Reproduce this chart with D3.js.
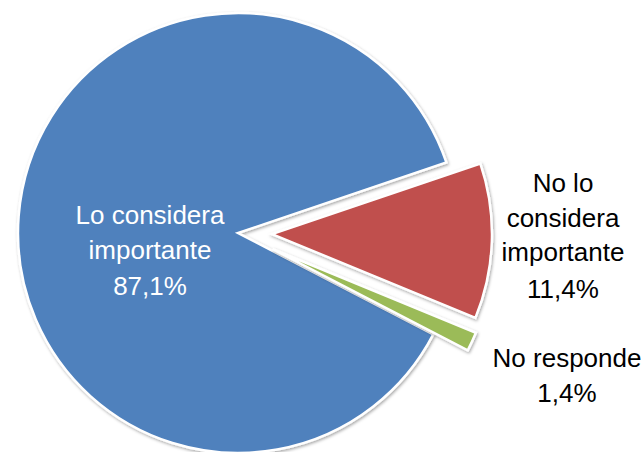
<!DOCTYPE html>
<html>
<head>
<meta charset="utf-8">
<script src="https://cdn.jsdelivr.net/npm/d3@7"></script>
<style>
  html, body { margin: 0; padding: 0; background: #fff; }
  svg { display: block; }
</style>
</head>
<body>
<svg id="chart" width="644" height="452"></svg>
<script>
// Survey answers, in the order the slices are laid out clockwise
const categories = ["No lo considera importante", "No responde", "Lo considera importante"];
const values = [11.4, 1.4, 87.1];
const valueLabels = ["11,4%", "1,4%", "87,1%"];
const labelLines = [["No lo", "considera", "importante"], ["No responde"], ["Lo considera", "importante"]];
const colors = ["#C0504D", "#9BBB59", "#4F81BD"];
const explode = [34, 38, 0];

const svg = d3.select("#chart");
const cx = 238, cy = 233, r = 220;
const start = 71.3 * Math.PI / 180;

const defs = svg.append("defs");
const f = defs.append("filter").attr("id", "shadow")
  .attr("x", "-10%").attr("y", "-10%").attr("width", "120%").attr("height", "120%");
f.append("feDropShadow").attr("dx", 1).attr("dy", 1.5)
  .attr("stdDeviation", 1.5).attr("flood-color", "#000").attr("flood-opacity", 0.35);

const pie = d3.pie().sort(null).value(d => d).startAngle(start).endAngle(start + 2 * Math.PI);
const arcs = pie(values);
const arc = d3.arc().innerRadius(0).outerRadius(r);

const g = svg.append("g").attr("transform", `translate(${cx},${cy})`);

// Draw blue last-first ordering so exploded slices sit above
const order = [2, 0, 1];
order.forEach(i => {
  const a = arcs[i];
  const mid = (a.startAngle + a.endAngle) / 2;
  const dx = Math.sin(mid) * explode[i], dy = -Math.cos(mid) * explode[i];
  g.append("path")
    .attr("d", arc(a))
    .attr("transform", `translate(${dx},${dy})`)
    .attr("fill", colors[i])
    .attr("stroke", "#fff")
    .attr("stroke-width", 2.5)
    .attr("stroke-linejoin", "miter")
    .attr("filter", "url(#shadow)");
});

const font = "'Liberation Sans', Arial, sans-serif";
function block(x, baselines, lines, fill) {
  const t = svg.append("text")
    .attr("text-anchor", "middle")
    .attr("font-family", font)
    .attr("font-size", 26)
    .attr("fill", fill);
  lines.forEach((s, k) => {
    t.append("tspan").attr("x", x).attr("y", baselines[k]).text(s);
  });
}

block(150, [224, 259, 295], [...labelLines[2], valueLabels[2]], "#fff");
block(563, [192, 227, 261, 298], [...labelLines[0], valueLabels[0]], "#000");
block(567, [367, 402], [...labelLines[1], valueLabels[1]], "#000");
</script>
</body>
</html>
